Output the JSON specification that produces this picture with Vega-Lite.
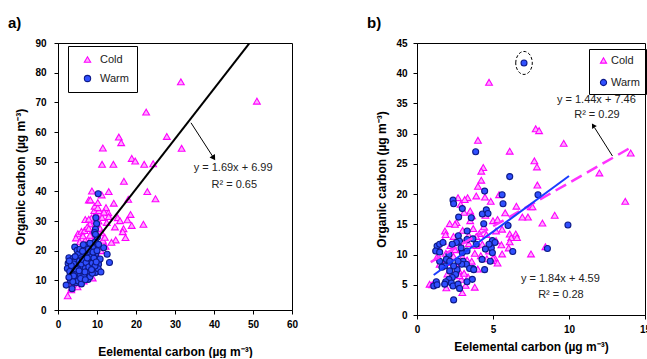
{
  "$schema": "https://vega.github.io/schema/vega-lite/v6.json",
  "background": "white",
  "padding": {"left": 7, "top": 15, "right": 0, "bottom": 0},
  "bounds": "flush",
  "spacing": 125,
  "config": {
    "font": "Liberation Sans",
    "view": {"stroke": "#000", "strokeWidth": 1},
    "axis": {"labelFont": "Liberation Sans", "labelFontWeight": "bold", "labelFontSize": 10, "labelColor": "#000", "labelOverlap": false, "labelFlush": false, "titleFont": "Liberation Sans", "titleFontWeight": "bold", "titleFontSize": 12, "titleColor": "#000", "domainColor": "#000", "tickColor": "#000", "tickSize": 4, "grid": false},
    "legend": {"labelFont": "Liberation Sans", "labelFontSize": 11, "labelColor": "#222", "strokeColor": "#000"}
  },
  "resolve": {
    "scale": {"shape": "independent", "fill": "independent", "stroke": "independent"},
    "legend": {"shape": "independent", "fill": "independent", "stroke": "independent"}
  },
  "hconcat": [
    {
      "width": 234,
      "height": 267,
      "title": {"text": "a)", "anchor": "start", "frame": "group", "dx": -50, "offset": 7.5, "fontSize": 15, "fontWeight": "bold", "font": "Liberation Sans", "color": "#000"},
      "layer": [
        {
          "data": {"values": [
            {"x":31.5,"y":76.9,"s":"Cold"},{"x":51.0,"y":70.4,"s":"Cold"},{"x":22.6,"y":66.7,"s":"Cold"},{"x":15.6,"y":58.3,"s":"Cold"},{"x":16.2,"y":56.4,"s":"Cold"},{"x":27.9,"y":58.5,"s":"Cold"},{"x":11.5,"y":54.6,"s":"Cold"},{"x":31.7,"y":54.5,"s":"Cold"},{"x":18.9,"y":51.1,"s":"Cold"},{"x":19.8,"y":50.2,"s":"Cold"},{"x":11.3,"y":49.1,"s":"Cold"},{"x":14.2,"y":49.1,"s":"Cold"},{"x":22.1,"y":49.1,"s":"Cold"},{"x":24.4,"y":49.3,"s":"Cold"},{"x":16.9,"y":43.4,"s":"Cold"},{"x":8.7,"y":40.1,"s":"Cold"},{"x":13.0,"y":39.9,"s":"Cold"},{"x":22.9,"y":39.9,"s":"Cold"},{"x":25.0,"y":37.5,"s":"Cold"},{"x":18.0,"y":37.3,"s":"Cold"},{"x":7.9,"y":37.1,"s":"Cold"},{"x":8.3,"y":37.1,"s":"Cold"},{"x":11.2,"y":38.8,"s":"Cold"},{"x":14.3,"y":36.0,"s":"Cold"},{"x":12.3,"y":34.5,"s":"Cold"},{"x":12.9,"y":32.8,"s":"Cold"},{"x":15.3,"y":31.1,"s":"Cold"},{"x":18.6,"y":32.2,"s":"Cold"},{"x":17.8,"y":30.4,"s":"Cold"},{"x":18.9,"y":28.5,"s":"Cold"},{"x":21.9,"y":28.9,"s":"Cold"},{"x":14.6,"y":28.0,"s":"Cold"},{"x":16.8,"y":27.4,"s":"Cold"},{"x":17.3,"y":24.4,"s":"Cold"},{"x":14.8,"y":23.6,"s":"Cold"},{"x":13.7,"y":22.8,"s":"Cold"},{"x":9.9,"y":33.0,"s":"Cold"},{"x":10.8,"y":32.6,"s":"Cold"},{"x":11.3,"y":31.2,"s":"Cold"},{"x":13.0,"y":31.5,"s":"Cold"},{"x":8.8,"y":30.1,"s":"Cold"},{"x":8.2,"y":29.0,"s":"Cold"},{"x":15.9,"y":30.1,"s":"Cold"},{"x":16.6,"y":26.4,"s":"Cold"},{"x":5.1,"y":25.7,"s":"Cold"},{"x":4.6,"y":24.3,"s":"Cold"},{"x":6.0,"y":26.5,"s":"Cold"},{"x":6.8,"y":26.8,"s":"Cold"},{"x":2.5,"y":4.8,"s":"Cold"},
            {"x":3.5,"y":7.5,"s":"Cold"},{"x":3.8,"y":10.5,"s":"Cold"},{"x":4.2,"y":12.0,"s":"Cold"},{"x":4.5,"y":14.0,"s":"Cold"},{"x":5.0,"y":16.0,"s":"Cold"},{"x":5.5,"y":18.0,"s":"Cold"},{"x":5.8,"y":19.5,"s":"Cold"},{"x":6.2,"y":21.0,"s":"Cold"},{"x":6.5,"y":22.5,"s":"Cold"},{"x":7.0,"y":23.5,"s":"Cold"},{"x":7.2,"y":20.0,"s":"Cold"},{"x":7.6,"y":18.0,"s":"Cold"},{"x":8.0,"y":22.0,"s":"Cold"},{"x":8.4,"y":24.0,"s":"Cold"},{"x":8.8,"y":26.0,"s":"Cold"},{"x":9.2,"y":27.0,"s":"Cold"},{"x":9.6,"y":25.0,"s":"Cold"},{"x":10.0,"y":28.0,"s":"Cold"},{"x":10.4,"y":30.0,"s":"Cold"},{"x":10.8,"y":27.5,"s":"Cold"},{"x":11.2,"y":26.0,"s":"Cold"},{"x":9.0,"y":20.0,"s":"Cold"},{"x":9.5,"y":22.0,"s":"Cold"},{"x":8.5,"y":17.0,"s":"Cold"},{"x":7.8,"y":15.0,"s":"Cold"},{"x":6.8,"y":14.0,"s":"Cold"},{"x":6.0,"y":12.5,"s":"Cold"},{"x":5.2,"y":11.0,"s":"Cold"},{"x":4.6,"y":9.5,"s":"Cold"},{"x":4.0,"y":8.5,"s":"Cold"},{"x":3.2,"y":9.0,"s":"Cold"},{"x":3.0,"y":11.5,"s":"Cold"},{"x":6.5,"y":17.0,"s":"Cold"},{"x":7.3,"y":13.0,"s":"Cold"},{"x":10.2,"y":18.0,"s":"Cold"},{"x":10.6,"y":22.0,"s":"Cold"},{"x":11.5,"y":23.5,"s":"Cold"},{"x":12.0,"y":24.5,"s":"Cold"},{"x":9.8,"y":32.0,"s":"Cold"},{"x":9.3,"y":33.5,"s":"Cold"},{"x":8.6,"y":31.0,"s":"Cold"},{"x":7.5,"y":28.0,"s":"Cold"},{"x":7.0,"y":30.5,"s":"Cold"},{"x":6.4,"y":25.0,"s":"Cold"},{"x":5.6,"y":23.0,"s":"Cold"},{"x":10.5,"y":33.5,"s":"Cold"},{"x":9.4,"y":35.0,"s":"Cold"},{"x":10.2,"y":34.5,"s":"Cold"},{"x":11.8,"y":33.0,"s":"Cold"},{"x":12.5,"y":29.5,"s":"Cold"},{"x":7.9,"y":27.5,"s":"Cold"},{"x":8.2,"y":25.2,"s":"Cold"},{"x":7.0,"y":22.1,"s":"Cold"},{"x":7.9,"y":30.6,"s":"Cold"},{"x":10.2,"y":36.2,"s":"Cold"},{"x":3.4,"y":6.8,"s":"Cold"},{"x":2.8,"y":9.5,"s":"Cold"},{"x":4.4,"y":11.0,"s":"Cold"},{"x":5.4,"y":13.5,"s":"Cold"},{"x":12.2,"y":21.5,"s":"Cold"},{"x":11.0,"y":20.0,"s":"Cold"},{"x":9.9,"y":14.5,"s":"Cold"},{"x":8.9,"y":10.8,"s":"Cold"},{"x":6.6,"y":9.8,"s":"Cold"},{"x":5.0,"y":7.8,"s":"Cold"},
            {"x":10.3,"y":39.2,"s":"Warm"},{"x":9.7,"y":31.1,"s":"Warm"},{"x":9.9,"y":29.1,"s":"Warm"},{"x":9.6,"y":27.2,"s":"Warm"},{"x":9.4,"y":26.1,"s":"Warm"},{"x":9.6,"y":23.0,"s":"Warm"},{"x":11.7,"y":21.0,"s":"Warm"},{"x":10.4,"y":22.1,"s":"Warm"},{"x":12.6,"y":18.8,"s":"Warm"},{"x":13.2,"y":16.0,"s":"Warm"},{"x":10.4,"y":16.5,"s":"Warm"},{"x":10.4,"y":15.4,"s":"Warm"},{"x":10.6,"y":13.1,"s":"Warm"},{"x":9.7,"y":19.0,"s":"Warm"},{"x":8.9,"y":21.0,"s":"Warm"},{"x":7.2,"y":21.8,"s":"Warm"},{"x":4.3,"y":21.2,"s":"Warm"},{"x":4.9,"y":20.1,"s":"Warm"},{"x":5.2,"y":18.8,"s":"Warm"},{"x":2.8,"y":17.6,"s":"Warm"},{"x":3.8,"y":17.3,"s":"Warm"},{"x":2.6,"y":15.7,"s":"Warm"},{"x":2.4,"y":14.0,"s":"Warm"},{"x":2.1,"y":8.4,"s":"Warm"},{"x":3.6,"y":7.2,"s":"Warm"},{"x":4.6,"y":9.2,"s":"Warm"},{"x":4.3,"y":16.3,"s":"Warm"},{"x":5.3,"y":15.4,"s":"Warm"},{"x":5.9,"y":14.3,"s":"Warm"},{"x":6.8,"y":13.1,"s":"Warm"},{"x":7.5,"y":11.8,"s":"Warm"},{"x":7.7,"y":10.3,"s":"Warm"},{"x":6.2,"y":10.9,"s":"Warm"},{"x":5.1,"y":11.5,"s":"Warm"},{"x":8.4,"y":12.6,"s":"Warm"},{"x":8.6,"y":14.8,"s":"Warm"},{"x":8.0,"y":16.5,"s":"Warm"},{"x":7.6,"y":19.0,"s":"Warm"},{"x":6.8,"y":19.3,"s":"Warm"},{"x":6.0,"y":17.6,"s":"Warm"},{"x":9.1,"y":13.9,"s":"Warm"},{"x":9.6,"y":12.6,"s":"Warm"},{"x":10.3,"y":13.9,"s":"Warm"},
            {"x":3.5,"y":12.0,"s":"Warm"},{"x":3.9,"y":13.5,"s":"Warm"},{"x":4.2,"y":10.5,"s":"Warm"},{"x":4.8,"y":12.5,"s":"Warm"},{"x":5.0,"y":14.0,"s":"Warm"},{"x":5.5,"y":16.5,"s":"Warm"},{"x":5.7,"y":12.0,"s":"Warm"},{"x":6.0,"y":15.5,"s":"Warm"},{"x":6.3,"y":17.0,"s":"Warm"},{"x":6.6,"y":11.5,"s":"Warm"},{"x":7.0,"y":14.0,"s":"Warm"},{"x":7.2,"y":16.0,"s":"Warm"},{"x":7.4,"y":13.0,"s":"Warm"},{"x":7.9,"y":14.5,"s":"Warm"},{"x":8.2,"y":11.2,"s":"Warm"},{"x":8.5,"y":18.0,"s":"Warm"},{"x":8.8,"y":15.8,"s":"Warm"},{"x":9.2,"y":17.5,"s":"Warm"},{"x":9.5,"y":14.8,"s":"Warm"},{"x":3.2,"y":10.0,"s":"Warm"},{"x":3.0,"y":13.0,"s":"Warm"},{"x":4.0,"y":15.5,"s":"Warm"},{"x":4.4,"y":18.0,"s":"Warm"},{"x":5.6,"y":20.5,"s":"Warm"},{"x":6.5,"y":22.0,"s":"Warm"},{"x":7.8,"y":20.5,"s":"Warm"},{"x":8.2,"y":22.5,"s":"Warm"},{"x":9.0,"y":19.5,"s":"Warm"},{"x":10.0,"y":20.0,"s":"Warm"},{"x":10.8,"y":17.2,"s":"Warm"},{"x":11.0,"y":12.8,"s":"Warm"},{"x":5.2,"y":9.8,"s":"Warm"},{"x":6.0,"y":8.8,"s":"Warm"},{"x":4.0,"y":11.5,"s":"Warm"},{"x":3.8,"y":9.5,"s":"Warm"},{"x":2.8,"y":11.0,"s":"Warm"},{"x":5.8,"y":10.6,"s":"Warm"},{"x":7.0,"y":10.2,"s":"Warm"},{"x":8.8,"y":12.4,"s":"Warm"},{"x":9.8,"y":16.2,"s":"Warm"},{"x":10.1,"y":24.5,"s":"Warm"},{"x":9.6,"y":25.5,"s":"Warm"},{"x":6.3,"y":19.8,"s":"Warm"},{"x":4.6,"y":13.8,"s":"Warm"},{"x":3.4,"y":15.0,"s":"Warm"},{"x":2.9,"y":16.5,"s":"Warm"},{"x":7.5,"y":17.5,"s":"Warm"},{"x":8.6,"y":13.6,"s":"Warm"},{"x":6.9,"y":12.8,"s":"Warm"},{"x":5.4,"y":13.2,"s":"Warm"}
          ]},
          "mark": {"type": "point", "filled": true, "strokeWidth": 1.1, "opacity": 1},
          "encoding": {
            "x": {"field": "x", "type": "quantitative", "scale": {"domain": [0, 60], "nice": false}, "axis": {"values": [0,10,20,30,40,50,60], "tickCount": 20, "labelOverlap": false, "title": "Eelemental carbon (µg m⁻³)", "labelPadding": 5, "titlePadding": 17}},
            "y": {"field": "y", "type": "quantitative", "scale": {"domain": [0, 90], "nice": false}, "axis": {"values": [0,10,20,30,40,50,60,70,80,90], "tickCount": 20, "labelOverlap": false, "title": "Organic carbon (µg m⁻³)", "labelPadding": 8, "titlePadding": 7}},
            "shape": {"field": "s", "type": "nominal", "scale": {"domain": ["Cold", "Warm"], "range": ["triangle-up", "circle"]},
              "legend": {"title": null, "orient": "none", "legendX": 10, "legendY": 3, "padding": 8, "symbolOffset": 6, "labelOffset": 7, "rowPadding": 7, "symbolSize": 40, "symbolStrokeWidth": 1.1, "strokeColor": "#000", "encode": {"legend": {"update": {"strokeDash": {"value": [4, 3]}, "strokeWidth": {"value": 1}}}}}},
            "fill": {"field": "s", "type": "nominal", "scale": {"domain": ["Cold", "Warm"], "range": ["#ffaaff", "#3050ff"]}, "legend": {"title": null, "orient": "none", "legendX": 10, "legendY": 3}},
            "stroke": {"field": "s", "type": "nominal", "scale": {"domain": ["Cold", "Warm"], "range": ["#ff00ff", "#0d1a8a"]}, "legend": {"title": null, "orient": "none", "legendX": 10, "legendY": 3}},
            "size": {"field": "s", "type": "nominal", "scale": {"domain": ["Cold", "Warm"], "range": [46, 36]}, "legend": null}
          }
        },
        {
          "data": {"values": [{"x": 3, "y": 12.06}, {"x": 49, "y": 89.8}]},
          "mark": {"type": "line", "color": "#000", "strokeWidth": 2},
          "encoding": {"x": {"field": "x", "type": "quantitative"}, "y": {"field": "y", "type": "quantitative"}}
        },
        {
          "data": {"values": [{"x": 34.1, "y": 63.1, "x2": 39.6, "y2": 51.9}]},
          "mark": {"type": "rule", "color": "#000", "strokeWidth": 1},
          "encoding": {"x": {"field": "x", "type": "quantitative"}, "y": {"field": "y", "type": "quantitative"}, "x2": {"field": "x2"}, "y2": {"field": "y2"}}
        },
        {
          "data": {"values": [{"x": 39.8, "y": 51.5, "a": 147}]},
          "mark": {"type": "point", "shape": "triangle", "filled": true, "color": "#000", "size": 40, "opacity": 1},
          "encoding": {"x": {"field": "x", "type": "quantitative"}, "y": {"field": "y", "type": "quantitative"}, "angle": {"field": "a", "type": "quantitative", "scale": null}}
        },
        {
          "data": {"values": [{"x": 44.9, "y": 47.9, "t": "y = 1.69x  + 6.99"}, {"x": 45.2, "y": 42.1, "t": "R² = 0.65"}]},
          "mark": {"type": "text", "font": "Liberation Sans", "fontSize": 11, "color": "#222", "align": "center", "baseline": "middle"},
          "encoding": {"x": {"field": "x", "type": "quantitative"}, "y": {"field": "y", "type": "quantitative"}, "text": {"field": "t"}}
        }
      ]
    },
    {
      "width": 228,
      "height": 272,
      "title": {"text": "b)", "anchor": "start", "frame": "group", "dx": -50, "offset": 7.5, "fontSize": 15, "fontWeight": "bold", "font": "Liberation Sans", "color": "#000"},
      "layer": [
        {
          "data": {"values": [
            {"x":4.74,"y":38.5,"s":"Cold"},{"x":4.01,"y":28.9,"s":"Cold"},{"x":6.1,"y":27.1,"s":"Cold"},{"x":7.81,"y":30.8,"s":"Cold"},{"x":8.03,"y":30.5,"s":"Cold"},{"x":9.65,"y":28.4,"s":"Cold"},{"x":7.72,"y":25.5,"s":"Cold"},{"x":7.89,"y":24.5,"s":"Cold"},{"x":4.36,"y":24.4,"s":"Cold"},{"x":4.23,"y":23.8,"s":"Cold"},{"x":4.23,"y":22.3,"s":"Cold"},{"x":4.01,"y":21.3,"s":"Cold"},{"x":7.92,"y":21.5,"s":"Cold"},{"x":12.0,"y":23.5,"s":"Cold"},{"x":14.06,"y":26.8,"s":"Cold"},{"x":13.7,"y":18.8,"s":"Cold"},{"x":9.06,"y":16.5,"s":"Cold"},{"x":7.48,"y":17.9,"s":"Cold"},{"x":7.6,"y":17.9,"s":"Cold"},{"x":7.3,"y":16.2,"s":"Cold"},{"x":6.93,"y":16.2,"s":"Cold"},{"x":7.5,"y":10.1,"s":"Cold"},{"x":8.25,"y":15.2,"s":"Cold"},{"x":6.54,"y":18.0,"s":"Cold"},{"x":6.5,"y":13.4,"s":"Cold"},{"x":6.1,"y":13.4,"s":"Cold"},{"x":6.2,"y":12.8,"s":"Cold"},{"x":6.1,"y":12.1,"s":"Cold"},{"x":6.03,"y":11.1,"s":"Cold"},{"x":5.55,"y":11.6,"s":"Cold"},{"x":5.6,"y":10.1,"s":"Cold"},{"x":8.45,"y":11.3,"s":"Cold"},{"x":5.4,"y":19.9,"s":"Cold"},{"x":5.0,"y":15.6,"s":"Cold"},{"x":5.2,"y":13.9,"s":"Cold"},{"x":4.85,"y":18.8,"s":"Cold"},{"x":4.47,"y":19.5,"s":"Cold"},{"x":3.9,"y":19.7,"s":"Cold"},{"x":3.5,"y":17.2,"s":"Cold"},{"x":3.62,"y":16.4,"s":"Cold"},{"x":3.33,"y":19.4,"s":"Cold"},{"x":3.14,"y":19.1,"s":"Cold"},{"x":2.7,"y":19.4,"s":"Cold"},{"x":2.87,"y":18.3,"s":"Cold"},{"x":2.15,"y":15.1,"s":"Cold"},{"x":1.84,"y":13.9,"s":"Cold"},{"x":1.88,"y":13.3,"s":"Cold"},{"x":1.7,"y":12.2,"s":"Cold"},{"x":1.45,"y":11.0,"s":"Cold"},{"x":1.49,"y":8.4,"s":"Cold"},{"x":0.83,"y":5.1,"s":"Cold"},{"x":1.93,"y":4.5,"s":"Cold"},{"x":3.8,"y":4.6,"s":"Cold"},{"x":2.98,"y":3.7,"s":"Cold"},{"x":2.92,"y":5.9,"s":"Cold"},{"x":3.36,"y":6.3,"s":"Cold"},{"x":2.76,"y":7.3,"s":"Cold"},{"x":4.3,"y":11.7,"s":"Cold"},{"x":4.56,"y":13.3,"s":"Cold"},{"x":4.74,"y":10.6,"s":"Cold"},{"x":5.1,"y":9.5,"s":"Cold"},{"x":6.58,"y":12.8,"s":"Cold"},
            {"x":2.2,"y":11.5,"s":"Cold"},{"x":2.5,"y":10.8,"s":"Cold"},{"x":2.4,"y":9.7,"s":"Cold"},{"x":2.1,"y":8.7,"s":"Cold"},{"x":2.6,"y":8.2,"s":"Cold"},{"x":2.3,"y":7.0,"s":"Cold"},{"x":2.0,"y":6.8,"s":"Cold"},{"x":1.7,"y":8.5,"s":"Cold"},{"x":1.3,"y":9.5,"s":"Cold"},{"x":2.8,"y":6.5,"s":"Cold"},{"x":3.1,"y":6.9,"s":"Cold"},{"x":3.0,"y":9.6,"s":"Cold"},{"x":3.3,"y":9.1,"s":"Cold"},{"x":3.6,"y":8.9,"s":"Cold"},{"x":3.8,"y":10.2,"s":"Cold"},{"x":3.4,"y":11.8,"s":"Cold"},{"x":3.2,"y":12.4,"s":"Cold"},{"x":3.0,"y":14.0,"s":"Cold"},{"x":3.7,"y":14.3,"s":"Cold"},{"x":3.9,"y":11.5,"s":"Cold"},{"x":4.1,"y":13.5,"s":"Cold"},{"x":4.2,"y":9.8,"s":"Cold"},{"x":4.6,"y":9.3,"s":"Cold"},{"x":4.8,"y":12.0,"s":"Cold"},{"x":5.2,"y":12.3,"s":"Cold"},{"x":5.0,"y":9.4,"s":"Cold"},{"x":5.3,"y":15.8,"s":"Cold"},{"x":5.6,"y":14.2,"s":"Cold"},{"x":2.6,"y":15.3,"s":"Cold"},{"x":2.4,"y":13.0,"s":"Cold"},{"x":1.9,"y":10.2,"s":"Cold"},{"x":3.5,"y":15.6,"s":"Cold"},{"x":3.9,"y":13.0,"s":"Cold"},{"x":2.9,"y":11.0,"s":"Cold"},{"x":3.4,"y":13.2,"s":"Cold"},{"x":2.7,"y":12.1,"s":"Cold"},{"x":4.4,"y":14.6,"s":"Cold"},{"x":1.0,"y":5.0,"s":"Cold"},{"x":2.0,"y":5.6,"s":"Cold"},{"x":3.2,"y":4.9,"s":"Cold"},{"x":4.0,"y":7.6,"s":"Cold"},{"x":4.9,"y":9.0,"s":"Cold"},{"x":5.3,"y":8.6,"s":"Cold"},{"x":2.5,"y":15.0,"s":"Cold"},{"x":3.1,"y":17.0,"s":"Cold"},{"x":4.5,"y":16.5,"s":"Cold"},{"x":5.8,"y":16.9,"s":"Cold"},
            {"x":7.04,"y":41.7,"s":"Warm"},{"x":3.86,"y":27.0,"s":"Warm"},{"x":6.1,"y":22.9,"s":"Warm"},{"x":4.45,"y":20.5,"s":"Warm"},{"x":5.6,"y":19.9,"s":"Warm"},{"x":5.66,"y":18.4,"s":"Warm"},{"x":7.96,"y":19.9,"s":"Warm"},{"x":5.99,"y":14.8,"s":"Warm"},{"x":9.93,"y":14.9,"s":"Warm"},{"x":6.3,"y":10.5,"s":"Warm"},{"x":8.58,"y":11.0,"s":"Warm"},
            {"x":2.37,"y":19.0,"s":"Warm"},{"x":2.41,"y":18.4,"s":"Warm"},{"x":2.74,"y":16.2,"s":"Warm"},{"x":2.98,"y":17.6,"s":"Warm"},{"x":3.57,"y":16.1,"s":"Warm"},{"x":4.3,"y":16.7,"s":"Warm"},{"x":4.56,"y":17.4,"s":"Warm"},{"x":4.67,"y":16.8,"s":"Warm"},{"x":4.39,"y":15.1,"s":"Warm"},{"x":4.96,"y":12.3,"s":"Warm"},{"x":5.13,"y":12.0,"s":"Warm"},{"x":4.89,"y":11.1,"s":"Warm"},{"x":4.96,"y":10.3,"s":"Warm"},{"x":4.74,"y":11.7,"s":"Warm"},{"x":4.5,"y":10.9,"s":"Warm"},{"x":4.28,"y":9.2,"s":"Warm"},{"x":4.45,"y":7.5,"s":"Warm"},{"x":4.82,"y":8.9,"s":"Warm"},{"x":3.9,"y":11.7,"s":"Warm"},{"x":3.68,"y":12.6,"s":"Warm"},{"x":3.3,"y":13.9,"s":"Warm"},{"x":3.29,"y":12.5,"s":"Warm"},{"x":2.72,"y":13.1,"s":"Warm"},{"x":2.8,"y":12.2,"s":"Warm"},{"x":2.59,"y":12.0,"s":"Warm"},{"x":2.32,"y":11.7,"s":"Warm"},{"x":1.32,"y":11.4,"s":"Warm"},{"x":1.49,"y":11.7,"s":"Warm"},{"x":1.71,"y":12.0,"s":"Warm"},{"x":1.23,"y":10.6,"s":"Warm"},{"x":1.49,"y":10.4,"s":"Warm"},{"x":2.1,"y":10.0,"s":"Warm"},{"x":2.98,"y":10.3,"s":"Warm"},{"x":3.29,"y":10.6,"s":"Warm"},{"x":3.03,"y":8.9,"s":"Warm"},{"x":3.25,"y":8.4,"s":"Warm"},{"x":3.68,"y":7.7,"s":"Warm"},{"x":3.46,"y":7.7,"s":"Warm"},{"x":3.64,"y":5.9,"s":"Warm"},{"x":3.29,"y":5.5,"s":"Warm"},{"x":3.73,"y":7.5,"s":"Warm"},{"x":2.63,"y":7.5,"s":"Warm"},{"x":2.41,"y":8.1,"s":"Warm"},{"x":1.93,"y":9.2,"s":"Warm"},{"x":1.49,"y":8.9,"s":"Warm"},{"x":1.82,"y":8.1,"s":"Warm"},{"x":1.64,"y":7.9,"s":"Warm"},{"x":2.15,"y":7.3,"s":"Warm"},{"x":2.54,"y":6.7,"s":"Warm"},{"x":2.32,"y":6.2,"s":"Warm"},{"x":2.1,"y":5.9,"s":"Warm"},{"x":2.26,"y":5.3,"s":"Warm"},{"x":1.89,"y":5.5,"s":"Warm"},{"x":2.37,"y":4.8,"s":"Warm"},{"x":2.7,"y":5.1,"s":"Warm"},{"x":2.8,"y":4.4,"s":"Warm"},{"x":1.82,"y":5.1,"s":"Warm"},{"x":1.27,"y":5.5,"s":"Warm"},{"x":1.1,"y":4.8,"s":"Warm"},{"x":1.32,"y":5.0,"s":"Warm"},{"x":2.41,"y":2.5,"s":"Warm"},{"x":2.94,"y":8.4,"s":"Warm"},{"x":2.7,"y":8.9,"s":"Warm"},{"x":2.15,"y":8.9,"s":"Warm"},{"x":2.9,"y":11.1,"s":"Warm"}
          ]},
          "mark": {"type": "point", "filled": true, "strokeWidth": 1.1, "opacity": 1},
          "encoding": {
            "x": {"field": "x", "type": "quantitative", "scale": {"domain": [0, 15], "nice": false}, "axis": {"values": [0,5,10,15], "tickCount": 20, "labelOverlap": false, "title": "Eelemental carbon (µg m⁻³)", "labelPadding": 5, "titlePadding": 7}},
            "y": {"field": "y", "type": "quantitative", "scale": {"domain": [0, 45], "nice": false}, "axis": {"values": [0,5,10,15,20,25,30,35,40,45], "tickCount": 20, "labelOverlap": false, "title": "Organic carbon (µg m⁻³)", "labelPadding": 6, "titlePadding": 7}},
            "shape": {"field": "s", "type": "nominal", "scale": {"domain": ["Cold", "Warm"], "range": ["triangle-up", "circle"]},
              "legend": {"title": null, "orient": "none", "legendX": 172, "legendY": 6, "padding": 6, "symbolOffset": 3, "labelOffset": 2, "rowPadding": 10, "symbolSize": 38, "symbolStrokeWidth": 1.1, "strokeColor": "#000", "encode": {"legend": {"update": {"strokeDash": {"value": [4, 3]}, "strokeWidth": {"value": 1}}}}}},
            "fill": {"field": "s", "type": "nominal", "scale": {"domain": ["Cold", "Warm"], "range": ["#ffaaff", "#3050ff"]}, "legend": {"title": null, "orient": "none", "legendX": 172, "legendY": 6}},
            "stroke": {"field": "s", "type": "nominal", "scale": {"domain": ["Cold", "Warm"], "range": ["#ff00ff", "#0d1a8a"]}, "legend": {"title": null, "orient": "none", "legendX": 172, "legendY": 6}},
            "size": {"field": "s", "type": "nominal", "scale": {"domain": ["Cold", "Warm"], "range": [40, 30]}, "legend": null}
          }
        },
        {
          "data": {"values": [{"x": 0.9, "y": 8.76}, {"x": 14.1, "y": 27.76}]},
          "mark": {"type": "line", "color": "#ff33ff", "strokeWidth": 2.5, "strokeDash": [12, 6]},
          "encoding": {"x": {"field": "x", "type": "quantitative"}, "y": {"field": "y", "type": "quantitative"}}
        },
        {
          "data": {"values": [{"x": 1.1, "y": 6.61}, {"x": 10.0, "y": 22.99}]},
          "mark": {"type": "line", "color": "#1a3cff", "strokeWidth": 2},
          "encoding": {"x": {"field": "x", "type": "quantitative"}, "y": {"field": "y", "type": "quantitative"}}
        },
        {
          "data": {"values": [{"x": 12.86, "y": 26.3, "x2": 11.68, "y2": 31.0}]},
          "mark": {"type": "rule", "color": "#000", "strokeWidth": 1},
          "encoding": {"x": {"field": "x", "type": "quantitative"}, "y": {"field": "y", "type": "quantitative"}, "x2": {"field": "x2"}, "y2": {"field": "y2"}}
        },
        {
          "data": {"values": [{"x": 11.62, "y": 31.25, "a": 328}]},
          "mark": {"type": "point", "shape": "triangle", "filled": true, "color": "#000", "size": 30, "opacity": 1},
          "encoding": {"x": {"field": "x", "type": "quantitative"}, "y": {"field": "y", "type": "quantitative"}, "angle": {"field": "a", "type": "quantitative", "scale": null}}
        },
        {
          "data": {"values": [{"x": 7.04, "y": 41.7}]},
          "mark": {"type": "point", "shape": "M -0.72 0 A 0.72 1 0 1 1 0.72 0 A 0.72 1 0 1 1 -0.72 0 Z", "filled": false, "stroke": "#000", "strokeWidth": 1, "strokeDash": [3, 2], "size": 529, "opacity": 1},
          "encoding": {"x": {"field": "x", "type": "quantitative"}, "y": {"field": "y", "type": "quantitative"}}
        },
        {
          "data": {"values": [{"x": 11.8, "y": 35.5, "t": "y = 1.44x + 7.46"}, {"x": 11.84, "y": 33.06, "t": "R² = 0.29"}, {"x": 9.43, "y": 5.9, "t": "y = 1.84x + 4.59"}, {"x": 9.47, "y": 3.26, "t": "R² = 0.28"}]},
          "mark": {"type": "text", "font": "Liberation Sans", "fontSize": 11, "color": "#222", "align": "center", "baseline": "middle"},
          "encoding": {"x": {"field": "x", "type": "quantitative"}, "y": {"field": "y", "type": "quantitative"}, "text": {"field": "t"}}
        }
      ]
    }
  ]
}
